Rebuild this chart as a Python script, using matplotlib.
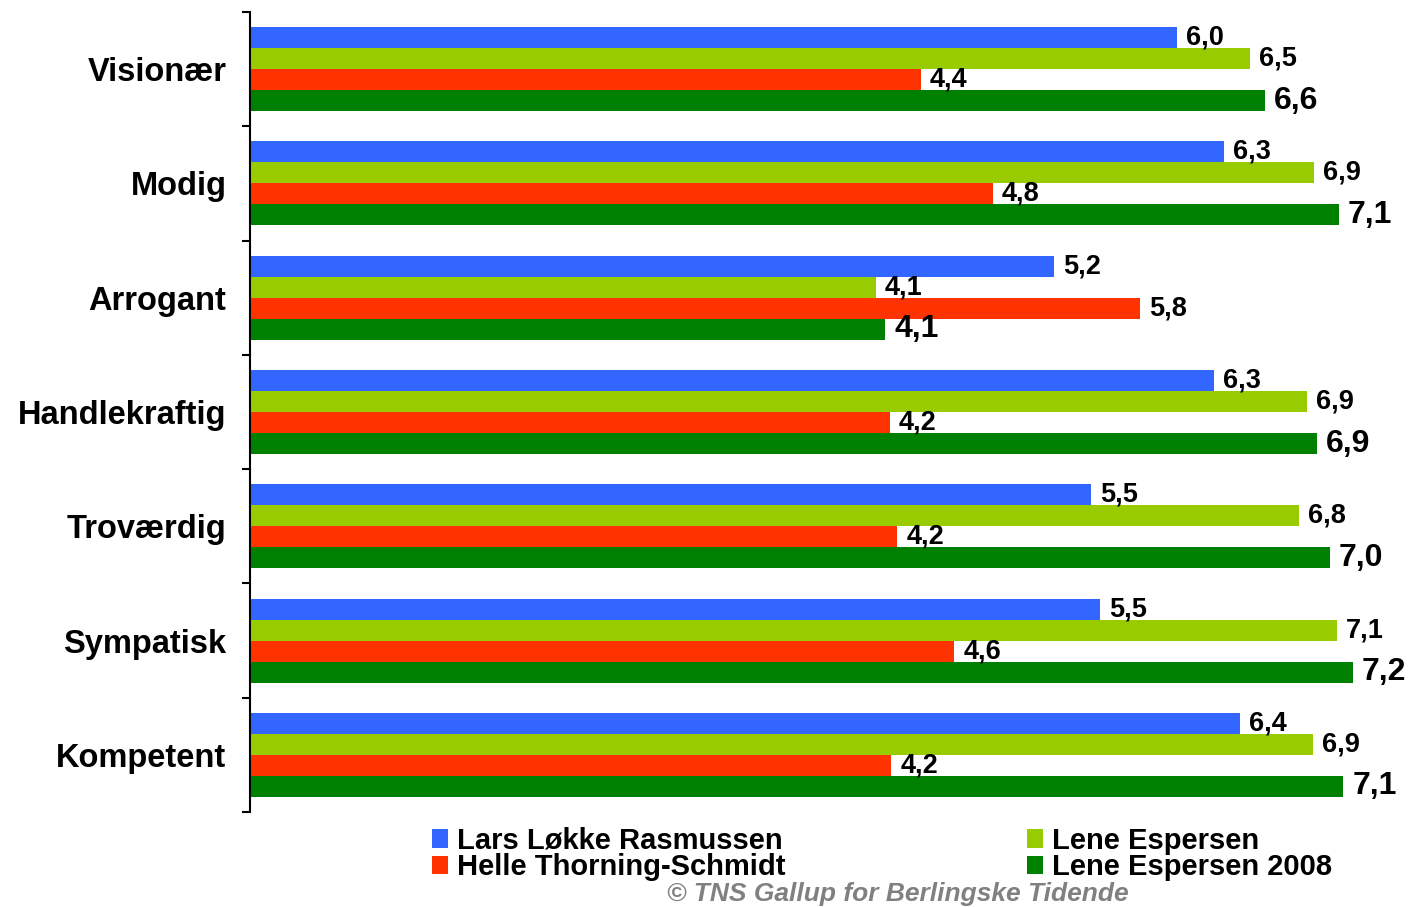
import matplotlib
matplotlib.use("Agg")
import matplotlib.pyplot as plt
import numpy as np

plt.rcParams['font.family'] = ['Liberation Sans', 'DejaVu Sans']

# -----------------------------
# Data
# -----------------------------
categories = ["Visionær", "Modig", "Arrogant", "Handlekraftig",
              "Troværdig", "Sympatisk", "Kompetent"]

series_names = ["Lars Løkke Rasmussen", "Lene Espersen",
                "Helle Thorning-Schmidt", "Lene Espersen 2008"]

lars = [6.03, 6.33, 5.23, 6.27, 5.47, 5.53, 6.44]
lene = [6.50, 6.92, 4.07, 6.87, 6.82, 7.07, 6.91]
helle = [4.36, 4.83, 5.79, 4.16, 4.21, 4.58, 4.17]
lene_2008 = [6.60, 7.08, 4.13, 6.94, 7.02, 7.17, 7.11]

colors = ["#3366FF", "#99CC00", "#FF3300", "#008000"]

# -----------------------------
# Plot
# -----------------------------
fig = plt.figure(figsize=(14.1, 9.07), dpi=100)
ax = fig.add_axes([250 / 1410, 1 - 812 / 907, 1155 / 1410, 800 / 907])

y = np.arange(len(categories))
bar_h = 0.184
offsets = [-1.5 * bar_h, -0.5 * bar_h, 0.5 * bar_h, 1.5 * bar_h]
all_series = [lars, lene, helle, lene_2008]

handles = []
for i, vals in enumerate(all_series):
    bars = ax.barh(y + offsets[i], vals, height=bar_h, color=colors[i],
                   label=series_names[i])
    handles.append(bars)
    size = 23 if i == 3 else 19.5
    for b, v in zip(bars, vals):
        ax.annotate(f"{v:.1f}".replace(".", ","),
                    xy=(b.get_width(), b.get_y() + b.get_height() / 2),
                    xytext=(6.5, 0), textcoords="offset points",
                    ha="left", va="center", fontsize=size,
                    fontweight="bold")

ax.set_xlim(0, 7.51)
ax.set_ylim(len(categories) - 0.5, -0.5)

for s in ["top", "right", "bottom"]:
    ax.spines[s].set_visible(False)
ax.spines["left"].set_linewidth(1.5)
ax.set_xticks([])

ax.set_yticks(y)
ax.set_yticklabels(categories, fontsize=23.5, fontweight="bold")
ax.tick_params(axis="y", which="major", length=0, pad=17)
ax.set_yticks(np.arange(-0.5, len(categories), 1.0), minor=True)
ax.tick_params(axis="y", which="minor", length=6, width=1.5, direction="out")

# legend: row1 = blue, light green ; row2 = red, dark green
order = [0, 2, 1, 3]
fig.legend([handles[k] for k in order], [series_names[k] for k in order],
           ncol=2, loc="center", bbox_to_anchor=(882 / 1410, 1 - 854 / 907),
           frameon=False, prop={"weight": "bold", "size": 21},
           handlelength=0.55, handleheight=0.6, handletextpad=0.3,
           labelspacing=-0.05, columnspacing=8.3, borderpad=0)

fig.text(898 / 1410, 1 - 894 / 907, "© TNS Gallup for Berlingske Tidende",
         ha="center", va="center", fontsize=19, fontweight="bold",
         fontstyle="italic", color="#808080")

plt.savefig("out.png", dpi=100)
